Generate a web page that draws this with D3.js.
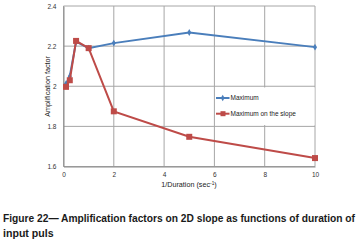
<!DOCTYPE html>
<html><head><meta charset="utf-8">
<script src="https://cdn.jsdelivr.net/npm/d3@7"></script>
<style>body{margin:0;background:#fff}svg{display:block}</style>
</head><body>
<svg id="c" width="361" height="246"></svg>
<script>
const xMaximum = [0.1, 0.25, 0.5, 1, 2, 5, 10];
const yMaximum = [2.012, 2.05, 2.222, 2.19, 2.215, 2.268, 2.195];
const xSlope = [0.1, 0.25, 0.5, 1, 2, 5, 10];
const ySlope = [1.997, 2.03, 2.226, 2.19, 1.875, 1.748, 1.642];
const xTicks = [0, 2, 4, 6, 8, 10];
const yTicks = [1.6, 1.8, 2.0, 2.2, 2.4];
const yTickLabels = ["1.6", "1.8", "2", "2.2", "2.4"];
const seriesNames = ["Maximum", "Maximum on the slope"];
const captionLines = ["Figure 22\u2014 Amplification factors on 2D slope as functions of duration of", "input puls"];

const svg = d3.select("#c");
const x = d3.scaleLinear().domain([0, 10]).range([63.5, 315]);
const y = d3.scaleLinear().domain([1.6, 2.4]).range([166.5, 6]);
const font = "'Liberation Sans', Arial, sans-serif";

// grid
svg.append("g").selectAll("line.h").data(yTicks).join("line")
  .attr("x1", x(0)).attr("x2", x(10)).attr("y1", d => y(d)).attr("y2", d => y(d))
  .attr("stroke", "#a6a6a6").attr("stroke-width", 1);
svg.append("g").selectAll("line.v").data(xTicks).join("line")
  .attr("x1", d => x(d)).attr("x2", d => x(d)).attr("y1", y(2.4)).attr("y2", y(1.6))
  .attr("stroke", "#a6a6a6").attr("stroke-width", 1);

// axes via d3
const yAxis = d3.axisLeft(y).tickValues(yTicks).tickSize(0).tickPadding(7)
  .tickFormat((d, i) => yTickLabels[i]);
const gy = svg.append("g").attr("transform", `translate(${x(0)},0)`).call(yAxis);
gy.select(".domain").attr("stroke", "#8c8c8c");
gy.selectAll("text").attr("font-family", font).attr("font-size", 6.5).attr("fill", "#333");

const xAxis = d3.axisBottom(x).tickValues(xTicks).tickSize(0).tickPadding(6).tickFormat(d3.format("d"));
const gx = svg.append("g").attr("transform", `translate(0,${y(1.6)})`).call(xAxis);
gx.select(".domain").attr("stroke", "#8c8c8c");
gx.selectAll("text").attr("font-family", font).attr("font-size", 6.5).attr("fill", "#333");

// axis titles
svg.append("text").attr("transform", `translate(50,86.5) rotate(-90)`)
  .attr("text-anchor", "middle").attr("font-family", font).attr("font-size", 7.2).attr("fill", "#222")
  .text("Amplification factor");
const xt = svg.append("text").attr("x", 189).attr("y", 187).attr("text-anchor", "middle")
  .attr("font-family", font).attr("font-size", 7.2).attr("fill", "#222");
xt.append("tspan").text("1/Duration (sec");
xt.append("tspan").attr("font-size", 4.8).attr("dy", -2.5).text("-1");
xt.append("tspan").attr("dy", 2.5).text(")");

// legend box
svg.append("rect").attr("x", 215.5).attr("y", 87.5).attr("width", 99).attr("height", 37.5).attr("fill", "#fff");

const blue = "#4a7ebb", red = "#be4b48";
const line = d3.line().x(d => x(d[0])).y(d => y(d[1]));
const dMax = xMaximum.map((v, i) => [v, yMaximum[i]]);
const dSlope = xSlope.map((v, i) => [v, ySlope[i]]);

svg.append("path").datum(dMax).attr("d", line).attr("fill", "none").attr("stroke", blue).attr("stroke-width", 2);
svg.append("g").selectAll("path").data(dMax).join("path")
  .attr("d", d3.symbol(d3.symbolDiamond, 14))
  .attr("transform", d => `translate(${x(d[0])},${y(d[1])})`).attr("fill", blue);

svg.append("path").datum(dSlope).attr("d", line).attr("fill", "none").attr("stroke", red).attr("stroke-width", 2);
svg.append("g").selectAll("rect").data(dSlope).join("rect")
  .attr("x", d => x(d[0]) - 3).attr("y", d => y(d[1]) - 3).attr("width", 6).attr("height", 6).attr("fill", red);

// legend entries
const leg = [{c: blue, yy: 98, m: "d"}, {c: red, yy: 113.7, m: "s"}];
leg.forEach((l, i) => {
  svg.append("line").attr("x1", 216).attr("x2", 229.5).attr("y1", l.yy).attr("y2", l.yy)
    .attr("stroke", l.c).attr("stroke-width", 2);
  if (l.m === "d") svg.append("path").attr("d", d3.symbol(d3.symbolDiamond, 12)).attr("transform", `translate(222.7,${l.yy})`).attr("fill", l.c);
  else svg.append("rect").attr("x", 220.5).attr("y", l.yy - 2.5).attr("width", 5).attr("height", 5).attr("fill", l.c);
  svg.append("text").attr("x", 230.5).attr("y", l.yy + 2.3).attr("font-family", font).attr("font-size", 6.5)
    .attr("fill", "#222").text(seriesNames[i]);
});

// caption
svg.append("text").attr("x", 3).attr("y", 222).attr("font-family", font).attr("font-weight", "bold")
  .attr("font-size", 10.3).attr("fill", "#1a1a1a").attr("textLength", 352).attr("lengthAdjust", "spacingAndGlyphs")
  .text(captionLines[0]);
svg.append("text").attr("x", 3).attr("y", 237).attr("font-family", font).attr("font-weight", "bold")
  .attr("font-size", 10.6).attr("fill", "#1a1a1a").text(captionLines[1]);
</script>
</body></html>
